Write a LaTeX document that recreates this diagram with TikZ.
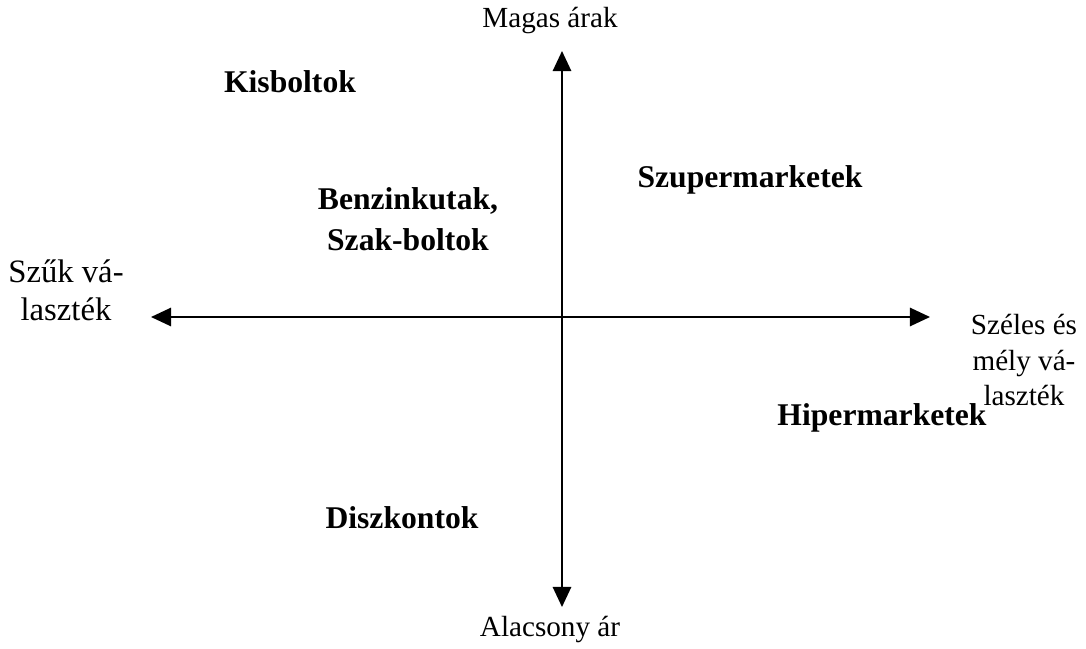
\documentclass[tikz,border=0pt]{standalone}
\usepackage{fontspec}
\setmainfont{Liberation Serif}
\usepackage{tikz}
\usetikzlibrary{arrows.meta,calc,
                positioning}

\begin{document}
\begin{tikzpicture}[x=0.02cm,y=-0.02cm]
  \tikzset{AxisLabel/.style = {align = center, font = \fontsize{16.6}{20}\selectfont, inner sep = 0pt}};
  \tikzset{StoreLabel/.style = {align = center, font = \fontsize{18}{23.2}\selectfont\bfseries, inner sep = 0pt}};
  \tikzset{AxisStyle/.style = {line width = 1.1pt, {Triangle[length=11.5pt,width=10.5pt]}-{Triangle[length=11.5pt,width=10.5pt]}}};

  \useasboundingbox (0,0) rectangle (1086,649);

  \coordinate (high price) at (562,51);
  \coordinate (low price) at (562,607);
  \coordinate (narrow choice) at (151,317);
  \coordinate (wide choice) at (930,317);

  \node[AxisLabel] (magas) at (550,21) {Magas árak};
  \node[AxisLabel] (alacsony) at (550,630) {Alacsony ár};
  \node[AxisLabel, font = \fontsize{18.6}{21.5}\selectfont] (szuk) at (66,290) {Szűk vá-\\laszték};
  \node[AxisLabel] (szeles) at (1024,360) {Széles és\\mély vá-\\laszték};

  \node[StoreLabel] (kisboltok) at (290,82) {Kisboltok};
  \node[StoreLabel] (szuper) at (750,180) {Szupermarketek};
  \node[StoreLabel] (benzin) at (408,219) {Benzinkutak,\\Szak-boltok};
  \node[StoreLabel] (hiper) at (882,418) {Hipermarketek};
  \node[StoreLabel] (diszkont) at (402,518) {Diszkontok};

  \draw[AxisStyle] (high price) -- (low price);
  \draw[AxisStyle] (narrow choice) -- (wide choice);
\end{tikzpicture}
\end{document}
